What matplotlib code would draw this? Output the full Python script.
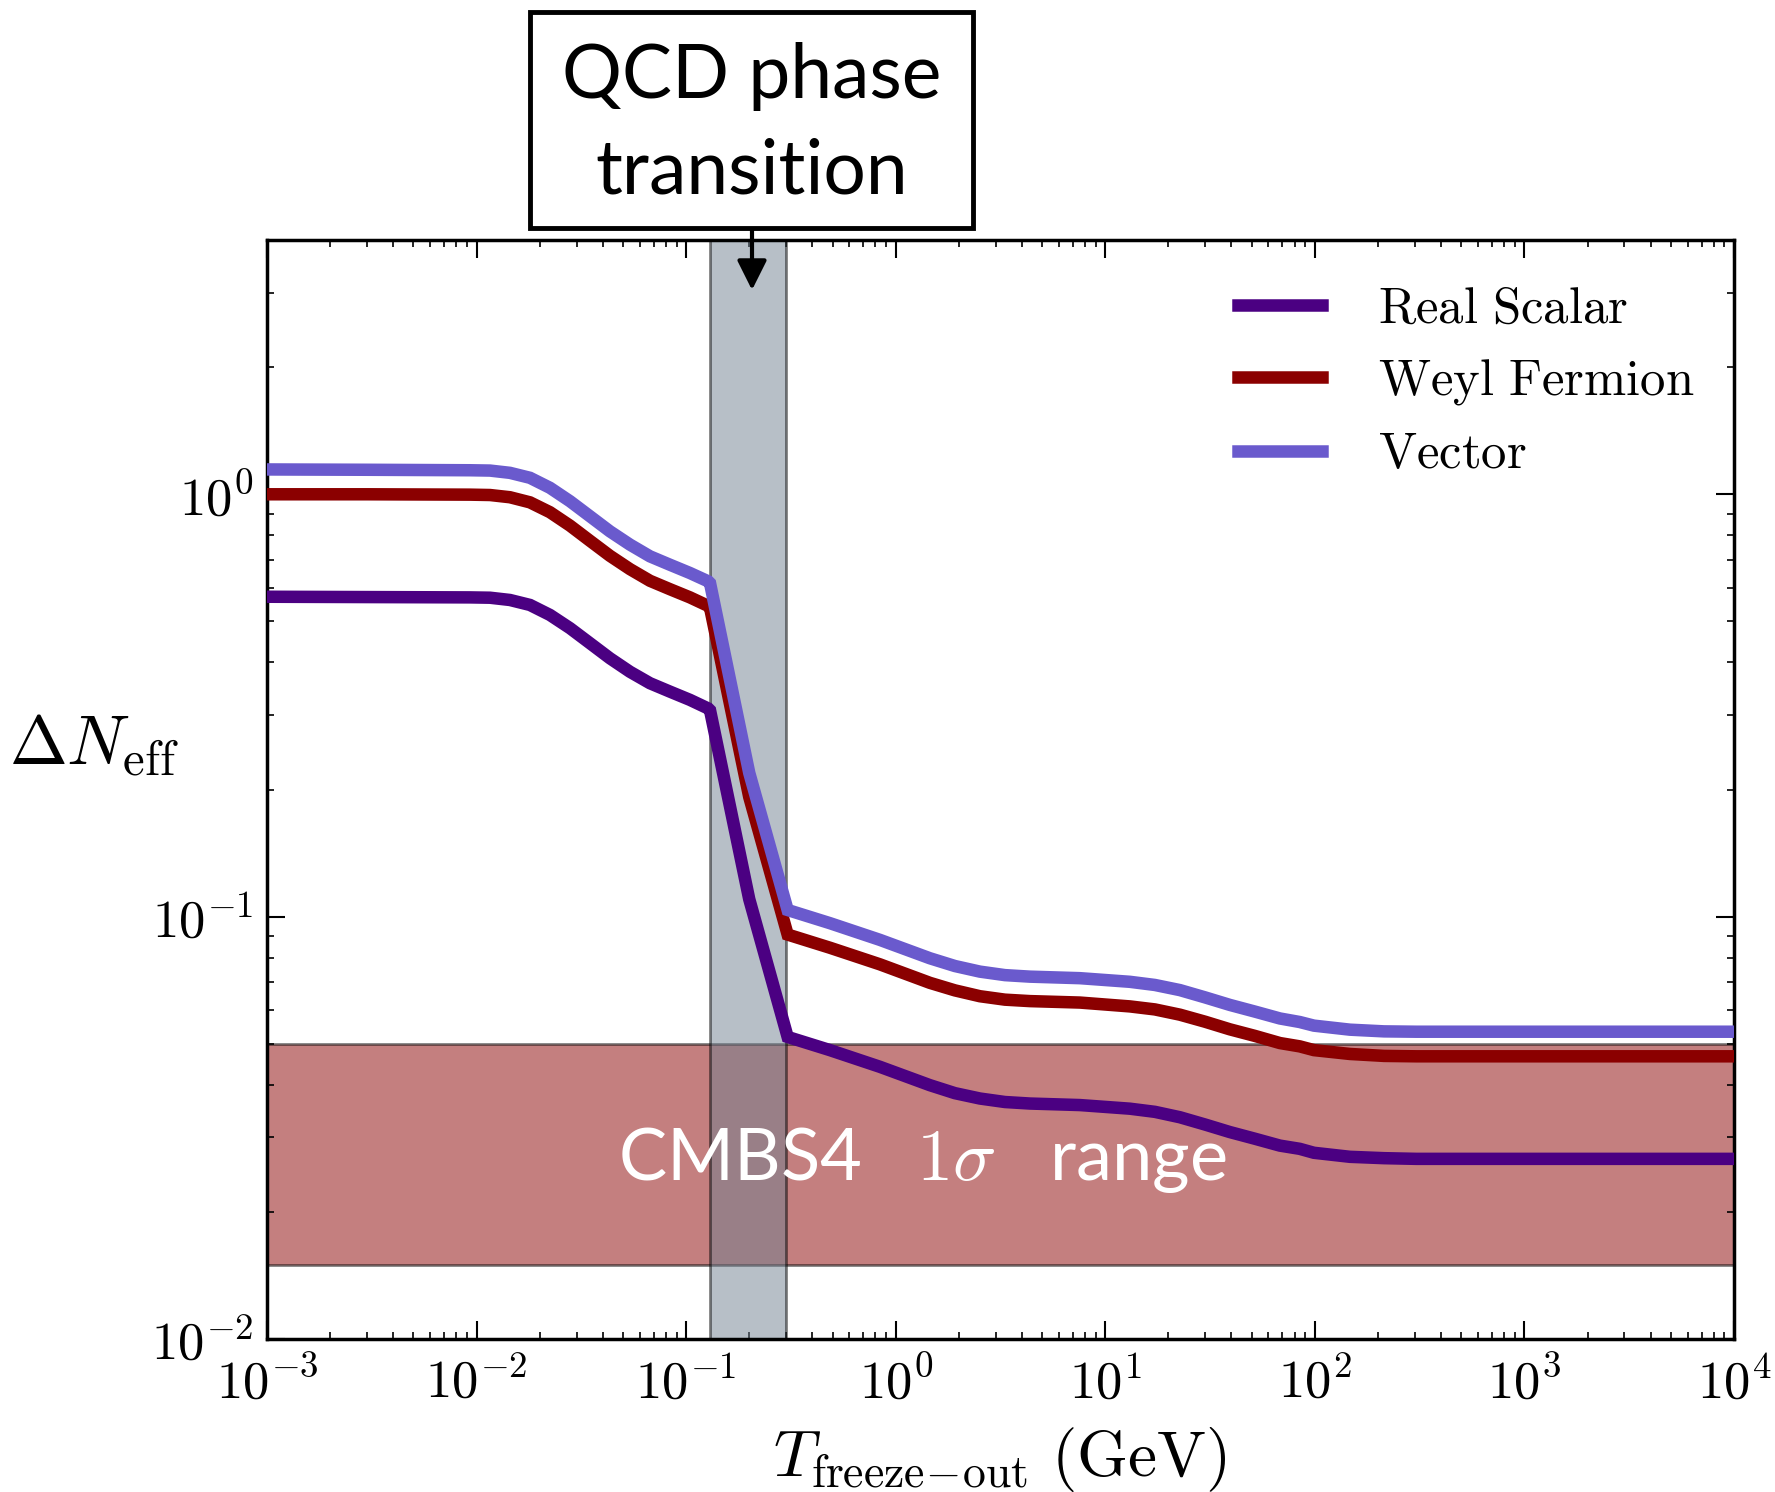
import matplotlib
matplotlib.use("Agg")
import matplotlib.pyplot as plt
from matplotlib.patches import Rectangle

plt.rcParams['mathtext.fontset'] = 'cm'

# ---------------- data ----------------
T_fo = [1e-3, 3e-3, 9.3e-3, 1.159e-2, 1.443e-2, 1.798e-2, 2.239e-2, 2.79e-2, 3.476e-2, 4.329e-2,
        5.394e-2, 6.72e-2, 8.372e-2, 0.1043, 0.1275, 0.13, 0.2, 0.305, 0.4855, 0.8408,
        1.456, 1.916, 2.522, 3.32, 4.368, 7.565, 13.1, 17.25, 22.7, 29.9,
        39.3, 51.7, 68.1, 84.7, 99, 147, 214, 305, 1e3, 1e4]

real_scalar = [0.572, 0.571, 0.570, 0.569, 0.562, 0.547, 0.518, 0.482, 0.444, 0.409,
               0.380, 0.357, 0.341, 0.326, 0.311, 0.308, 0.110, 0.0519, 0.0483, 0.0441,
               0.0399, 0.0382, 0.0371, 0.0364, 0.0361, 0.0358, 0.0351, 0.0345, 0.0335, 0.0322,
               0.0309, 0.0298, 0.0287, 0.0282, 0.0276, 0.0270, 0.0268, 0.0267, 0.0267, 0.0267]

weyl_fermion = [1.0, 1.0, 0.998, 0.996, 0.984, 0.957, 0.907, 0.843, 0.776, 0.715,
                0.665, 0.624, 0.596, 0.570, 0.544, 0.539, 0.192, 0.0907, 0.0844, 0.0771,
                0.0697, 0.0669, 0.0648, 0.0636, 0.0631, 0.0626, 0.0613, 0.0603, 0.0586, 0.0564,
                0.0541, 0.0522, 0.0502, 0.0493, 0.0483, 0.0473, 0.0468, 0.0467, 0.0467, 0.0467]

vector = [1.145, 1.143, 1.140, 1.138, 1.124, 1.094, 1.036, 0.963, 0.887, 0.817,
          0.760, 0.713, 0.681, 0.651, 0.622, 0.616, 0.219, 0.1037, 0.0965, 0.0881,
          0.0797, 0.0764, 0.0741, 0.0727, 0.0721, 0.0715, 0.0701, 0.0689, 0.0670, 0.0644,
          0.0618, 0.0596, 0.0574, 0.0563, 0.0552, 0.0540, 0.0535, 0.0534, 0.0534, 0.0534]

series_labels = ['Real Scalar', 'Weyl Fermion', 'Vector']
series_colors = ['#4B0082', '#8B0000', '#6A5ACD']

qcd_band = (0.13, 0.30)
cmb_band = (0.015, 0.05)

xticks = [1e-3, 1e-2, 1e-1, 1e0, 1e1, 1e2, 1e3, 1e4]
xticklabels = [r'$10^{-3}$', r'$10^{-2}$', r'$10^{-1}$', r'$10^{0}$', r'$10^{1}$',
               r'$10^{2}$', r'$10^{3}$', r'$10^{4}$']
yticks = [1e-2, 1e-1, 1e0]
yticklabels = [r'$10^{-2}$', r'$10^{-1}$', r'$10^{0}$']

# ---------------- figure ----------------
W, H = 1775, 1492
fig = plt.figure(figsize=(W / 100, H / 100), dpi=100)
ax = fig.add_axes([267 / W, (H - 1339) / H, 1467 / W, 1099 / H])
ax.set_xscale('log')
ax.set_yscale('log')
ax.set_xlim(1e-3, 1e4)
ax.set_ylim(1e-2, 4.0)

ax.axhspan(cmb_band[0], cmb_band[1], facecolor='#8B0000', edgecolor='black',
           lw=2.0, alpha=0.5, zorder=1)
ax.axvspan(qcd_band[0], qcd_band[1], facecolor='#708090', edgecolor='black',
           lw=2.0, alpha=0.5, zorder=2)

for ys, lab, col in zip([real_scalar, weyl_fermion, vector], series_labels, series_colors):
    ax.plot(T_fo, ys, color=col, lw=9.0, label=r'$\mathrm{' + lab.replace(' ', r'\ ') + '}$',
            zorder=3, solid_joinstyle='miter')

ax.set_xticks(xticks, xticklabels)
ax.set_yticks(yticks, yticklabels)
ax.tick_params(which='both', direction='in', top=True, right=True)
ax.tick_params(which='major', length=13, width=1.5, labelsize=38)
ax.tick_params(axis='x', which='major', pad=13)
ax.tick_params(axis='y', which='major', pad=10)
ax.tick_params(which='minor', length=5, width=1.2)
for s in ax.spines.values():
    s.set_linewidth(2.5)

leg = ax.legend(loc='upper left', bbox_to_anchor=((1218 - 267) / 1467, (1339 - 263) / 1099),
                frameon=False, fontsize=36.5, handlelength=1.66, handletextpad=1.1,
                labelspacing=0.44, borderaxespad=0)

# CMB label
ax.text((922 - 267) / 1467, (1339 - 1180) / 1099, r'CMBS4   $1\sigma$   range',
        transform=ax.transAxes, ha='center', va='baseline', color='white',
        fontsize=52, family='Lato', zorder=4)

# axis labels
ax.text((179 - 267) / 1467, (1339 - 765) / 1099, r'$\Delta N_{\mathrm{eff}}$',
        transform=ax.transAxes, ha='right', va='baseline', fontsize=50)
fig.text(1000 / W, 1 - 1476 / H, r'$T_{\mathrm{freeze}\!-\!\mathrm{out}}\ (\mathrm{GeV})$',
         ha='center', va='baseline', fontsize=47)

# QCD box and arrow
box = Rectangle((530 / W, 1 - 228 / H), (973 - 530) / W, (228 - 12) / H,
                transform=fig.transFigure, facecolor='white', edgecolor='black',
                lw=3.5, zorder=10)
fig.add_artist(box)
fig.text(752 / W, 1 - 98 / H, 'QCD phase', ha='center', va='baseline',
         fontsize=54, family='Lato', zorder=11)
fig.text(752 / W, 1 - 193 / H, 'transition', ha='center', va='baseline',
         fontsize=54, family='Lato', zorder=11)
ax.annotate('', xy=(752 / W, 1 - 290 / H), xycoords='figure fraction',
            xytext=(752 / W, 1 - 228 / H), textcoords='figure fraction',
            arrowprops=dict(arrowstyle='-|>', color='black', lw=3.0,
                            mutation_scale=45, shrinkA=0, shrinkB=0),
            zorder=12)

fig.savefig('out.png', dpi=100)
